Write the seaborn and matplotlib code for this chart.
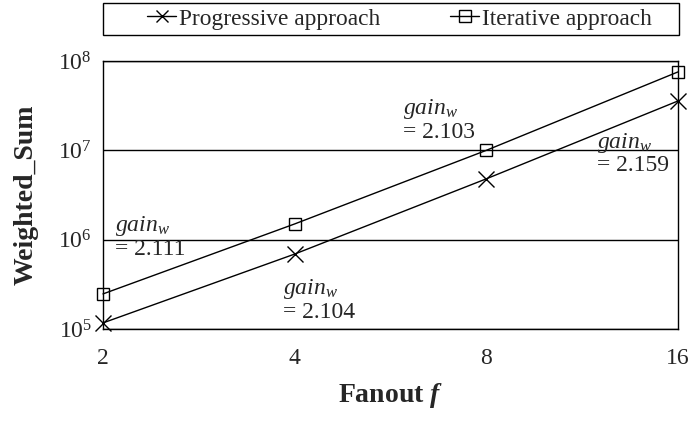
import numpy as np
import pandas as pd
import matplotlib
matplotlib.use('Agg')
import matplotlib.pyplot as plt
import matplotlib.ticker as mticker
from matplotlib.patches import Rectangle
import seaborn as sns

# data
fanout = [2, 4, 8, 16]
progressive = [1.17e5, 6.9e5, 4.8e6, 3.57e7]
iterative = [2.47e5, 1.5e6, 1.0e7, 7.55e7]
gain_labels = ['2.111', '2.104', '2.103', '2.159']

sns.set_style("white")
plt.rcParams['font.family'] = ['Liberation Serif', 'DejaVu Serif']
plt.rcParams['mathtext.fontset'] = 'custom'
plt.rcParams['mathtext.rm'] = 'Liberation Serif'
plt.rcParams['mathtext.it'] = 'Liberation Serif:italic'
plt.rcParams['mathtext.bf'] = 'Liberation Serif:bold'
plt.rcParams['mathtext.bfit'] = 'Liberation Serif:italic:bold'

df = pd.DataFrame({
    'Fanout': fanout * 2,
    'Weighted_Sum': progressive + iterative,
    'Approach': ['Progressive approach'] * 4 + ['Iterative approach'] * 4,
})

fig = plt.figure(figsize=(6.92, 4.23), dpi=100)
ax = fig.add_axes([0.1488, 0.2222, 0.8310, 0.6336])

sns.lineplot(data=df[df['Approach'] == 'Progressive approach'], x='Fanout', y='Weighted_Sum',
             ax=ax, color='black', lw=1, marker='x', markersize=11, markeredgewidth=1,
             markeredgecolor='black', clip_on=False, label='Progressive approach')
sns.lineplot(data=df[df['Approach'] == 'Iterative approach'], x='Fanout', y='Weighted_Sum',
             ax=ax, color='black', lw=1, marker='s', markersize=9, markeredgewidth=1,
             markerfacecolor='none', markeredgecolor='black', clip_on=False,
             label='Iterative approach')

ax.set_xscale('log', base=2)
ax.set_yscale('log')
ax.set_xlim(2, 16)
ax.set_ylim(1e5, 1e8)
ax.set_xticks(fanout)
ax.xaxis.set_major_formatter(mticker.FuncFormatter(lambda v, p: f'{int(v)}'))
ax.xaxis.set_minor_locator(mticker.NullLocator())
ax.yaxis.set_major_locator(mticker.LogLocator(base=10, numticks=10))
ax.yaxis.set_minor_locator(mticker.NullLocator())
ax.yaxis.grid(True, color='black', lw=1)
ax.set_axisbelow(True)
ax.tick_params(axis='x', direction='in', length=5, color='black', labelsize=17, pad=14)
ax.tick_params(axis='y', length=0, labelsize=17, pad=8)
for s in ax.spines.values():
    s.set_color('black')
    s.set_linewidth(1)

ax.set_xlabel(r'Fanout $\mathbfit{f}$', fontsize=20, fontweight='bold', labelpad=8)
ax.set_ylabel('Weighted_Sum', fontsize=20, fontweight='bold', labelpad=14)

# gain annotations (axes fraction)
ann_pos = [(0.021, 0.428), (0.313, 0.195), (0.522, 0.865), (0.859, 0.74)]
for (ax_x, ax_y), g in zip(ann_pos, gain_labels):
    ax.text(ax_x, ax_y, r'$gain_w$' + '\n= ' + g, transform=ax.transAxes,
            fontsize=17, va='top', ha='left', linespacing=1.05)

# legend frame drawn separately, spanning the axes width
fig.patches.append(Rectangle((103 / 692, 1 - 35 / 423), 576 / 692, 32 / 423,
                             transform=fig.transFigure, fill=False,
                             edgecolor='black', lw=1))
leg = ax.legend(loc='center left', bbox_to_anchor=(147 / 692, 1 - 19 / 423),
                bbox_transform=fig.transFigure, ncol=2, fontsize=16.8,
                frameon=False, handlelength=1.25, handletextpad=0.12,
                columnspacing=3.0, borderpad=0, borderaxespad=0)
for h in leg.legend_handles:
    h.set_markersize(8)

plt.savefig('out.png', dpi=100)
plt.close()
